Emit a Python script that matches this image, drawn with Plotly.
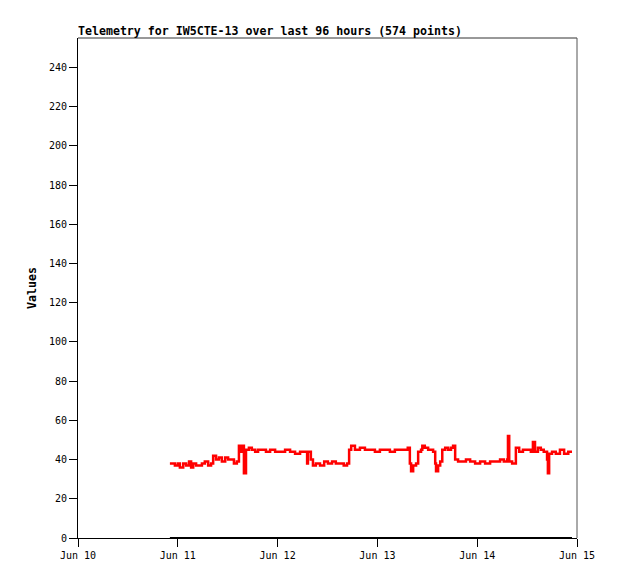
import pandas as pd
import plotly.graph_objects as go

# Data: hours after Jun 10 00:00, telemetry value
start = pd.Timestamp("2024-06-10 00:00")
hours = [22.1, 23.3, 24.0, 24.5, 25.3, 26.0, 26.7, 27.2, 27.7, 28.4, 29.1, 29.8, 30.5, 31.3,
         32.0, 32.5, 33.2, 33.9, 34.6, 35.4, 36.1, 36.8, 37.5, 38.2, 38.7, 39.2, 39.7, 39.9,
         40.4, 41.1, 41.8, 42.6, 43.3, 44.2, 45.2, 46.2, 47.4, 48.6, 49.8, 51.0, 52.2, 53.4,
         54.6, 55.1, 55.3, 56.0, 56.5, 57.2, 58.2, 59.2, 60.1, 61.1, 62.0, 63.0, 63.9, 64.7,
         65.2, 65.7, 66.6, 67.8, 69.0, 70.2, 71.4, 72.6, 73.8, 75.0, 76.2, 77.4, 78.6, 79.3,
         79.8, 80.1, 80.6, 81.3, 81.8, 82.5, 82.8, 83.4, 84.2, 84.9, 85.4, 85.9, 86.1, 86.6,
         87.1, 87.6, 88.3, 89.0, 89.7, 90.2, 90.7, 91.4, 92.3, 93.3, 94.3, 95.5, 96.7, 97.9,
         99.1, 100.3, 101.5, 102.4, 103.2, 103.4, 103.7, 104.4, 105.1, 105.3, 106.1, 107.0,
         108.0, 108.9, 109.4, 109.9, 110.6, 111.3, 112.0, 112.5, 112.8, 113.0, 113.3, 114.0,
         114.9, 115.9, 116.9, 117.9, 118.8]
values = [38, 37, 38, 36, 38, 37, 39, 36, 38, 37, 37, 38, 39, 37,
          38, 42, 40, 41, 39, 41, 40, 40, 38, 39, 47, 44, 47, 33,
          45, 46, 45, 44, 45, 45, 44, 45, 44, 44, 45, 44, 43, 44,
          44, 38, 44, 40, 37, 38, 37, 39, 38, 39, 38, 38, 37, 38,
          45, 47, 45, 46, 45, 45, 44, 45, 45, 44, 45, 45, 45, 46,
          38, 34, 37, 38, 44, 45, 47, 46, 45, 45, 44, 38, 34, 37,
          39, 45, 46, 45, 46, 47, 40, 39, 39, 40, 39, 38, 39, 38,
          39, 39, 40, 39, 40, 52, 39, 38, 38, 46, 44, 45,
          45, 44, 49, 44, 46, 45, 44, 44, 40, 33, 43, 44,
          43, 45, 43, 44, 44]
zero_values = [0, 0]

times = [start + pd.Timedelta(hours=h) for h in hours]
zero_times = [times[0], times[-1]]

fig = go.Figure()
fig.add_trace(go.Scatter(x=zero_times, y=zero_values, mode="lines",
                         line=dict(color="black", width=2), showlegend=False))
fig.add_trace(go.Scatter(x=times, y=values, mode="lines",
                         line=dict(color="#ff0000", width=2.5, shape="hv"), showlegend=False))

mono = "DejaVu Sans Mono"
# page body has an 8px margin, so the figure is drawn 8px smaller and offset
fig.update_layout(
    width=610, height=571,
    margin=dict(l=70, r=41, t=30, b=41, autoexpand=False),
    paper_bgcolor="white", plot_bgcolor="white",
    font=dict(family=mono, size=10, color="black"),
    title=dict(text="<b>Telemetry for IW5CTE-13 over last 96 hours (574 points)</b>",
               x=0, xanchor="left", xref="paper",
               y=1 - 23 / 571, yanchor="middle",
               font=dict(family=mono, size=11.6, color="black")),
    showlegend=False,
)
fig.update_xaxes(
    range=[pd.Timestamp("2024-06-10"), pd.Timestamp("2024-06-15")],
    type="date", dtick=86400000, tickformat="%b %d",
    showgrid=False, zeroline=False, automargin=False,
    showline=True, linecolor="black", linewidth=1,
    ticks="outside", ticklen=8, tickcolor="black",
    tickfont=dict(family=mono, size=10),
)
fig.update_yaxes(
    range=[0, 255], dtick=20, tick0=0,
    showgrid=False, zeroline=False, automargin=False,
    showline=True, linecolor="black", linewidth=1,
    ticks="outside", ticklen=8, tickcolor="black",
    tickfont=dict(family=mono, size=10),
    title=dict(text="<b>Values</b>", font=dict(family=mono, size=11.6), standoff=9),
)
fig.add_shape(type="line", xref="paper", yref="paper", x0=0, x1=1, y0=1, y1=1,
              line=dict(color="#333333", width=1))
fig.add_shape(type="line", xref="paper", yref="paper", x0=1, x1=1, y0=0, y1=1,
              line=dict(color="#555555", width=1))

fig.write_html("out.html")
